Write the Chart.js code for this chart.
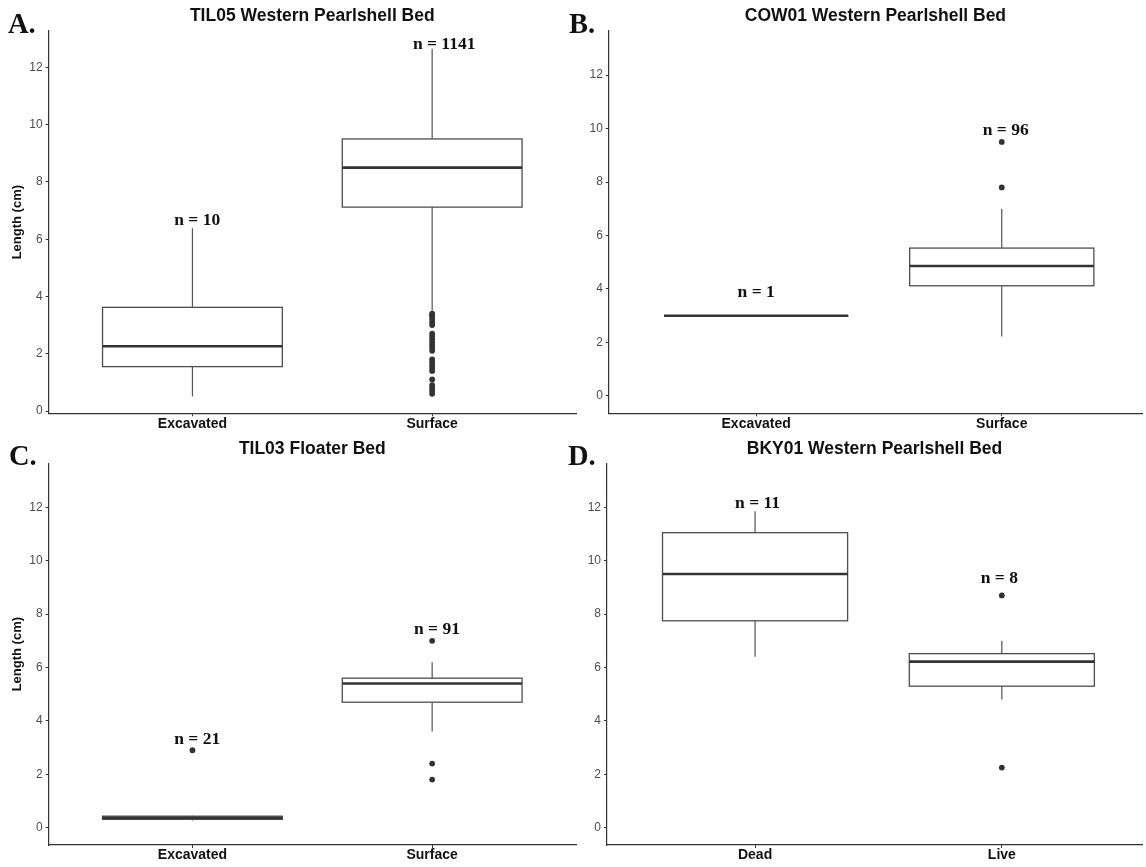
<!DOCTYPE html>
<html>
<head>
<meta charset="utf-8">
<script src="https://cdn.jsdelivr.net/npm/chart.js@4.4.1/dist/chart.umd.min.js"></script>
<style>
  html, body { margin: 0; padding: 0; background: #ffffff; }
  #wrap { position: relative; width: 1146px; height: 867px; overflow: hidden; background: #ffffff; }
  canvas { position: absolute; }
</style>
</head>
<body>
<div id="wrap">
  <canvas id="cA" width="580" height="433" style="left:0px;top:0px"></canvas>
  <canvas id="cC" width="580" height="435" style="left:0px;top:432px"></canvas>
  <canvas id="cB" width="580" height="433" style="left:566px;top:0px"></canvas>
  <canvas id="cD" width="580" height="435" style="left:566px;top:432px"></canvas>
</div>
<script>
// ---------------- data ----------------
const yTickValues = [0, 2, 4, 6, 8, 10, 12];
const yLabelText = 'Length (cm)';

// Panel A
const titleA = 'TIL05 Western Pearlshell Bed';
const catsA = ['Excavated', 'Surface'];
const lowA  = [0.51, 3.5];
const q1A   = [1.55, 7.12];
const medA  = [2.26, 8.5];
const q3A   = [3.62, 9.5];
const highA = [6.38, 12.65];
const outliersA = [[], [3.4, 3.35, 3.3, 3.2, 3.1, 3.0, 2.7, 2.6, 2.5, 2.4, 2.3, 2.2, 2.1, 1.8, 1.7, 1.6, 1.5, 1.4, 1.1, 0.9, 0.8, 0.7, 0.6]];
const nTextA = ['n = 10', 'n = 1141'];
const nAtXA = [1.02, 2.05];
const nAtYA = [6.64, 12.81];

// Panel B
const titleB = 'COW01 Western Pearlshell Bed';
const catsB = ['Excavated', 'Surface'];
const lowB  = [3.0, 2.22];
const q1B   = [3.0, 4.12];
const medB  = [3.0, 4.86];
const q3B   = [3.0, 5.53];
const highB = [3.0, 7.0];
const outliersB = [[], [9.5, 7.8]];
const nTextB = ['n = 1', 'n = 96'];
const nAtXB = [1.0, 2.016];
const nAtYB = [3.86, 9.93];

// Panel C
const titleC = 'TIL03 Floater Bed';
const catsC = ['Excavated', 'Surface'];
const lowC  = [0.27, 3.6];
const q1C   = [0.31, 4.7];
const medC  = [0.37, 5.4];
const q3C   = [0.43, 5.6];
const highC = [0.45, 6.2];
const outliersC = [[2.9], [7.0, 2.4, 1.8]];
const nTextC = ['n = 21', 'n = 91'];
const nAtXC = [1.02, 2.02];
const nAtYC = [3.32, 7.43];

// Panel D
const titleD = 'BKY01 Western Pearlshell Bed';
const catsD = ['Dead', 'Live'];
const lowD  = [6.4, 4.8];
const q1D   = [7.75, 5.3];
const medD  = [9.5, 6.22];
const q3D   = [11.05, 6.52];
const highD = [11.85, 7.0];
const outliersD = [[], [8.7, 2.25]];
const nTextD = ['n = 11', 'n = 8'];
const nAtXD = [1.01, 1.99];
const nAtYD = [12.15, 9.33];

// ---------------- drawing ----------------
const SANS = '"Liberation Sans", Arial, Helvetica, sans-serif';
const SERIF = '"Liberation Serif", "Times New Roman", serif';

const boxplotPlugin = {
  id: 'boxplot',
  beforeDatasetsDraw(chart) {
    const s = chart.options.plugins.boxplot;
    const x = chart.scales.x, y = chart.scales.y, ctx = chart.ctx;
    const half = 0.375;
    ctx.save();
    s.cats.forEach((c, i) => {
      const cx = x.getPixelForValue(i + 1);
      const xl = x.getPixelForValue(i + 1 - half);
      const xr = x.getPixelForValue(i + 1 + half);
      const yHi = y.getPixelForValue(s.high[i]);
      const yQ3 = y.getPixelForValue(s.q3[i]);
      const yMed = y.getPixelForValue(s.med[i]);
      const yQ1 = y.getPixelForValue(s.q1[i]);
      const yLo = y.getPixelForValue(s.low[i]);
      ctx.strokeStyle = '#555555';
      ctx.lineWidth = 1.2;
      ctx.beginPath();
      ctx.moveTo(cx, yHi); ctx.lineTo(cx, yQ3);
      ctx.moveTo(cx, yQ1); ctx.lineTo(cx, yLo);
      ctx.stroke();
      ctx.fillStyle = '#ffffff';
      ctx.fillRect(xl, yQ3, xr - xl, yQ1 - yQ3);
      ctx.strokeStyle = '#4d4d4d';
      ctx.lineWidth = 1.3;
      ctx.strokeRect(xl, yQ3, xr - xl, yQ1 - yQ3);
      ctx.strokeStyle = '#333333';
      ctx.lineWidth = 2.6;
      ctx.beginPath();
      ctx.moveTo(xl, yMed); ctx.lineTo(xr, yMed);
      ctx.stroke();
    });
    ctx.restore();
  },
  afterDraw(chart) {
    const s = chart.options.plugins.boxplot;
    const x = chart.scales.x, y = chart.scales.y, ctx = chart.ctx;
    const area = chart.chartArea;
    ctx.save();
    // panel title
    ctx.fillStyle = '#111111';
    ctx.font = 'bold 17.5px ' + SANS;
    ctx.textAlign = 'center';
    ctx.textBaseline = 'middle';
    ctx.fillText(s.title, (area.left + area.right) / 2, area.top - 14.5);
    // n labels
    ctx.font = 'bold 17.5px ' + SERIF;
    s.nText.forEach((t, i) => {
      ctx.fillText(t, x.getPixelForValue(s.nAtX[i]), y.getPixelForValue(s.nAtY[i]));
    });
    // panel letter
    ctx.font = 'bold 28.5px ' + SERIF;
    ctx.textAlign = 'left';
    ctx.textBaseline = 'alphabetic';
    ctx.fillText(s.letter, s.letterX, area.top + 1.8);
    ctx.restore();
  }
};

function makePanel(canvasId, spec) {
  const points = [];
  spec.outliers.forEach((arr, i) => arr.forEach(v => points.push({ x: i + 1, y: v })));
  const axisGrid = { display: true, drawOnChartArea: false, drawTicks: true, tickLength: 3, color: '#333333', tickColor: '#333333', lineWidth: 1 };
  const axisBorder = { display: true, color: '#333333', width: 1.2 };
  return new Chart(document.getElementById(canvasId), {
    type: 'scatter',
    data: {
      datasets: [{
        data: points,
        backgroundColor: '#333333',
        pointBackgroundColor: '#333333',
        borderWidth: 0,
        pointBorderWidth: 0,
        pointRadius: 2.9,
        showLine: false
      }]
    },
    options: {
      responsive: false,
      animation: false,
      events: [],
      layout: { padding: { top: spec.padTop, right: spec.padRight, left: 0, bottom: 0 } },
      plugins: {
        legend: { display: false },
        tooltip: { enabled: false },
        title: { display: false },
        boxplot: spec
      },
      scales: {
        x: {
          type: 'linear',
          min: 0.4,
          max: spec.xMax,
          afterBuildTicks: sc => { sc.ticks = spec.cats.map((c, i) => ({ value: i + 1 })); },
          afterFit: sc => { sc.height = spec.xAxisH; },
          ticks: {
            callback: (v, idx) => spec.cats[idx],
            color: '#111111',
            font: { family: SANS, size: 14, weight: 'bold' },
            padding: -1,
            maxRotation: 0,
            autoSkip: false
          },
          grid: axisGrid,
          border: axisBorder
        },
        y: {
          type: 'linear',
          min: spec.yMin,
          max: spec.yMax,
          afterBuildTicks: sc => { sc.ticks = yTickValues.map(v => ({ value: v })); },
          afterFit: sc => { sc.width = spec.yAxisW; },
          ticks: {
            callback: v => String(v),
            color: '#4d4d4d',
            font: { family: SANS, size: 12 },
            padding: 3
          },
          grid: axisGrid,
          border: axisBorder,
          title: {
            display: spec.showYTitle,
            text: yLabelText,
            color: '#111111',
            font: { family: SANS, size: 13, weight: 'bold' },
            padding: { top: 9.8, bottom: 0 }
          }
        }
      }
    },
    plugins: [boxplotPlugin]
  });
}

makePanel('cA', {
  title: titleA, letter: 'A.', letterX: 8, cats: catsA,
  low: lowA, q1: q1A, med: medA, q3: q3A, high: highA, outliers: outliersA,
  nText: nTextA, nAtX: nAtXA, nAtY: nAtYA,
  yMin: -0.08, yMax: 13.27, xMax: 2.6,
  yAxisW: 48.6, padRight: 2.5, padTop: 31, xAxisH: 19.7, showYTitle: true
});
makePanel('cB', {
  title: titleB, letter: 'B.', letterX: 3, cats: catsB,
  low: lowB, q1: q1B, med: medB, q3: q3B, high: highB, outliers: outliersB,
  nText: nTextB, nAtX: nAtXB, nAtY: nAtYB,
  yMin: -0.65, yMax: 13.65, xMax: 2.571,
  yAxisW: 42.8, padRight: 0, padTop: 31, xAxisH: 19.7, showYTitle: false
});
makePanel('cC', {
  title: titleC, letter: 'C.', letterX: 9, cats: catsC,
  low: lowC, q1: q1C, med: medC, q3: q3C, high: highC, outliers: outliersC,
  nText: nTextC, nAtX: nAtXC, nAtY: nAtYC,
  yMin: -0.65, yMax: 13.65, xMax: 2.6,
  yAxisW: 48.6, padRight: 2.5, padTop: 31.3, xAxisH: 22, showYTitle: true
});
makePanel('cD', {
  title: titleD, letter: 'D.', letterX: 2, cats: catsD,
  low: lowD, q1: q1D, med: medD, q3: q3D, high: highD, outliers: outliersD,
  nText: nTextD, nAtX: nAtXD, nAtY: nAtYD,
  yMin: -0.65, yMax: 13.65, xMax: 2.568,
  yAxisW: 41, padRight: 0, padTop: 31.3, xAxisH: 22, showYTitle: false
});
</script>
</body>
</html>
